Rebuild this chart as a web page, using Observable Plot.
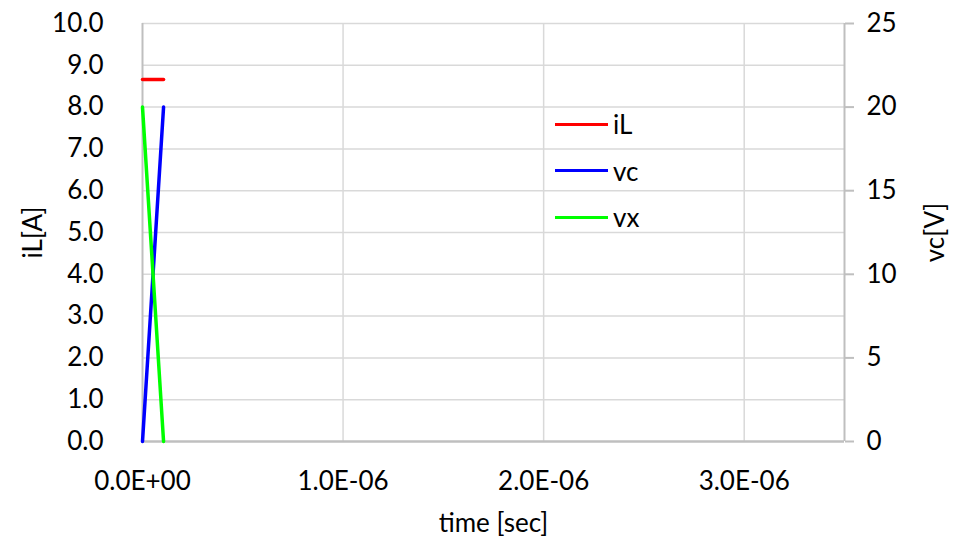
<!DOCTYPE html>
<html><head><meta charset="utf-8">
<script src="https://cdn.jsdelivr.net/npm/d3@7"></script>
<script src="https://cdn.jsdelivr.net/npm/@observablehq/plot@0.6"></script>
<style>
body{margin:0;background:#fff;font-family:Lato,"Open Sans",sans-serif;}
#wrap{position:relative;width:964px;height:545px;}
#legend{position:absolute;left:555px;top:101px;font:26px Lato,sans-serif;color:#000;}
.item{display:flex;align-items:center;height:46.5px;}
.sw{width:53px;height:3px;margin-right:5px;}
</style></head>
<body><div id="wrap"><div id="legend"></div></div>
<script>
const time = [0, 1.05e-7];
const iL = [8.66, 8.66];
const vc = [0, 20];
const vx = [20, 0];
const seriesNames = ["iL", "vc", "vx"];
const seriesColors = ["#ff0000", "#0000ff", "#00ff00"];
const xTicks = [0, 1e-6, 2e-6, 3e-6];
const yTicks = [0,1,2,3,4,5,6,7,8,9,10];
const rightTicks = [0,5,10,15,20,25];
const VSCALE = 2.5; // right axis volts per left-axis unit

const rows = [];
time.forEach((t,i) => {
  rows.push({t, name:"iL", y: iL[i]});
  rows.push({t, name:"vc", y: vc[i] / VSCALE});
  rows.push({t, name:"vx", y: vx[i] / VSCALE});
});

function fmtE(d){
  if (d === 0) return "0.0E+00";
  const [m, e] = d.toExponential(1).split("e");
  const n = +e;
  return m + "E" + (n < 0 ? "-" : "+") + String(Math.abs(n)).padStart(2,"0");
}

const FS = 26;
const chart = Plot.plot({
  width: 964, height: 545,
  marginLeft: 142, marginRight: 120, marginTop: 23, marginBottom: 104,
  style: {fontFamily: "Lato, sans-serif", fontSize: FS + "px", color: "#000", background: "#fff"},
  x: {domain: [0, 3.5e-6]},
  y: {domain: [0, 10]},
  color: {domain: seriesNames, range: seriesColors},
  marks: [
    Plot.gridY(yTicks.slice(1), {stroke: "#d9d9d9", strokeOpacity: 1, strokeWidth: 1.5}),
    Plot.gridX(xTicks.slice(1), {stroke: "#d9d9d9", strokeOpacity: 1, strokeWidth: 1.5}),
    Plot.ruleX([0, 3.5e-6], {stroke: "#bfbfbf", strokeWidth: 2}),
    Plot.ruleY([0], {stroke: "#bfbfbf", strokeWidth: 2.5}),
    Plot.axisY({anchor: "left", ticks: yTicks, tickFormat: d => d.toFixed(1), tickSize: 0, tickPadding: 39, label: null, fontSize: FS}),
    Plot.axisY({anchor: "right", ticks: rightTicks.map(v => v / VSCALE), tickFormat: d => String(Math.round(d * VSCALE)), tickSize: 9, tickPadding: 13, stroke: "#bfbfbf", strokeWidth: 2, label: null, fontSize: FS}),
    Plot.axisX({ticks: xTicks, tickFormat: fmtE, tickSize: 0, tickPadding: 30, label: null, fontSize: FS}),
    Plot.line(rows, {x: "t", y: "y", z: "name", stroke: "name", strokeWidth: 3.5}),
    Plot.text(["iL[A]"], {frameAnchor: "left", dx: -109, rotate: -90, textAnchor: "middle", lineAnchor: "middle", fontSize: FS}),
    Plot.text(["vc[V]"], {frameAnchor: "right", dx: 91, rotate: -90, textAnchor: "middle", lineAnchor: "middle", fontSize: FS}),
    Plot.text(["time [sec]"], {frameAnchor: "bottom", dy: 82, lineAnchor: "middle", fontSize: FS})
  ]
});
document.getElementById("wrap").prepend(chart);
const leg = document.getElementById("legend");
seriesNames.forEach((n,i) => {
  const d = document.createElement("div"); d.className = "item";
  d.innerHTML = `<span class="sw" style="background:${seriesColors[i]}"></span><span>${n}</span>`;
  leg.appendChild(d);
});
</script></body></html>
